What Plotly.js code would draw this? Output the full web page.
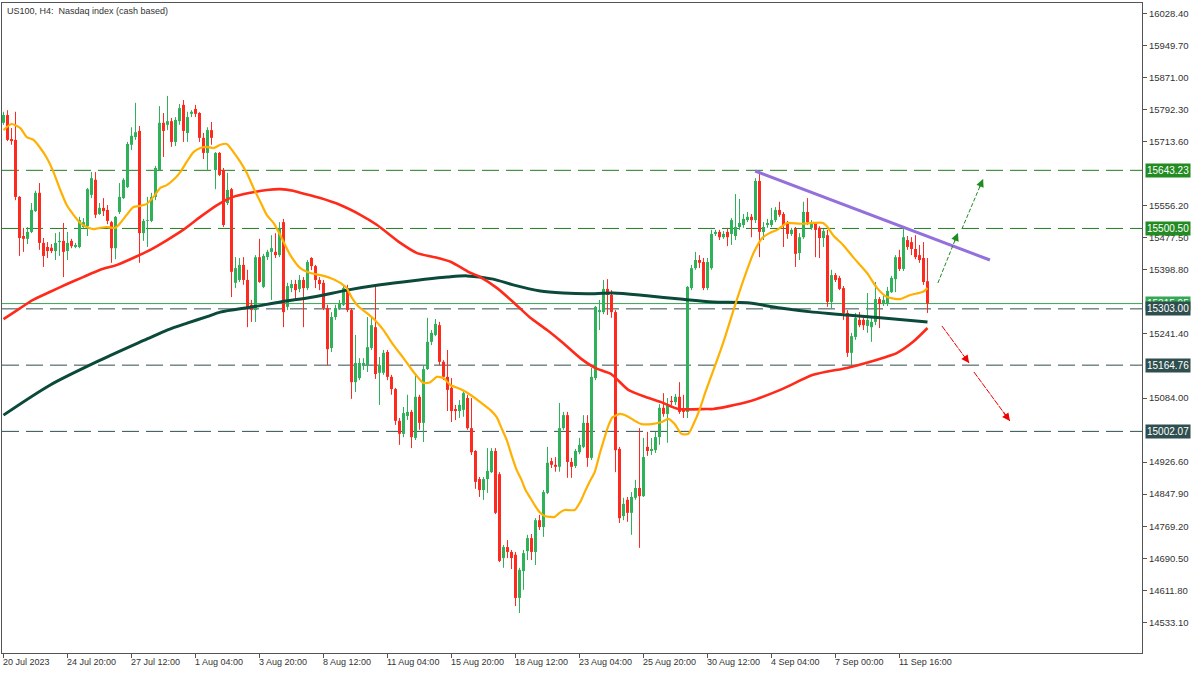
<!DOCTYPE html>
<html><head><meta charset="utf-8">
<script src="https://cdn.plot.ly/plotly-3.0.1.min.js"></script>
<style>html,body{margin:0;padding:0;background:#fff;}#chart{width:1200px;height:675px;}</style>
</head><body><div id="chart"></div>
<script>
const chartTitle = 'US100, H4:\u00A0 Nasdaq index (cash based)';
const xTickLabels = ['20 Jul 2023','24 Jul 20:00','27 Jul 12:00','1 Aug 04:00','3 Aug 20:00','8 Aug 12:00','11 Aug 04:00','15 Aug 20:00','18 Aug 12:00','23 Aug 04:00','25 Aug 20:00','30 Aug 12:00','4 Sep 04:00','7 Sep 00:00','11 Sep 16:00'];
const barsPerTimeLabel = 16;
const yTickVals = [16028.40,15949.70,15871.00,15792.30,15713.60,15556.20,15477.50,15398.80,15241.40,15084.00,14926.60,14847.90,14769.20,14690.50,14611.80,14533.10];

const opens = [15760,15779,15720,15718,15578,15482,15475,15492,15543,15588,
15465,15455,15453,15445,15467,15470,15445,15470,15455,15455,
15504,15506,15583,15620,15536,15551,15546,15516,15452,15541,
15575,15602,15706,15725,15740,15489,15519,15519,15578,15644,
15760,15755,15764,15713,15764,15804,15735,15782,15794,15784,
15723,15686,15742,15644,15686,15644,15563,15597,15367,15374,
15411,15374,15313,15300,15430,15357,15430,15443,15443,15435,
15516,15308,15354,15364,15352,15374,15354,15428,15408,15374,
15367,15305,15207,15283,15305,15313,15354,15300,15123,15133,
15165,15165,15207,15258,15146,15146,15197,15136,15106,15028,
14996,15040,15050,14986,15087,15023,15155,15222,15239,15263,
15173,15136,15109,15057,15052,15055,15084,15010,14954,14885,
14858,14885,14902,14954,14897,14691,14718,14706,14699,14593,
14659,14708,14740,14706,14784,14767,14851,14929,14920,14915,
15010,15042,14927,14917,14951,14964,15023,14937,15133,15295,
15295,15352,15337,15295,14959,14794,14834,14802,14839,14863,
14843,14964,14954,14956,14988,15060,15045,15077,15074,15087,
15055,15050,15354,15403,15423,15418,15354,15403,15487,15492,
15479,15492,15487,15482,15504,15509,15521,15529,15521,15617,
15492,15509,15509,15521,15546,15536,15514,15487,15499,15440,
15479,15541,15502,15514,15502,15477,15484,15320,15386,15379,
15354,15293,15195,15234,15276,15276,15261,15258,15271,15327,
15315,15315,15344,15376,15430,15401,15472,15467,15450,15435,
15428,15371];
const highs = [15787,15791,15747,15787,15580,15502,15504,15563,15593,15612,
15477,15467,15462,15489,15492,15514,15492,15475,15465,15529,
15526,15600,15639,15639,15563,15575,15558,15519,15531,15612,
15624,15713,15749,15809,15752,15524,15578,15588,15654,15801,
15784,15826,15772,15774,15806,15816,15787,15791,15804,15786,
15735,15749,15762,15688,15688,15649,15637,15600,15430,15428,
15430,15399,15325,15435,15475,15438,15448,15484,15489,15516,
15524,15367,15374,15374,15386,15381,15423,15430,15411,15381,
15374,15313,15295,15313,15325,15362,15362,15305,15239,15182,
15182,15283,15283,15362,15185,15202,15202,15141,15109,15035,
15062,15092,15055,15141,15092,15165,15281,15251,15278,15271,
15177,15202,15133,15067,15079,15104,15092,15084,14956,14890,
14890,14961,14961,14961,14902,14723,14735,14711,14706,14667,
14711,14748,14750,14789,14797,14858,14964,14937,14939,15072,
15050,15050,14937,14959,14986,15042,15042,15158,15310,15325,
15374,15376,15349,15300,14964,14839,14841,14853,14883,15010,
14986,15001,14986,15001,15069,15096,15084,15089,15094,15123,
15092,15359,15411,15443,15435,15428,15428,15497,15497,15497,
15494,15499,15526,15585,15573,15536,15541,15536,15624,15637,
15516,15524,15551,15553,15566,15541,15519,15502,15504,15489,
15566,15575,15521,15516,15506,15499,15497,15399,15391,15384,
15359,15300,15244,15293,15295,15281,15342,15281,15369,15332,
15335,15357,15384,15435,15448,15502,15482,15479,15484,15460,
15467,15428];
const lows = [15755,15715,15706,15570,15433,15443,15462,15489,15541,15448,
15406,15428,15440,15423,15433,15381,15423,15452,15452,15452,
15502,15482,15575,15526,15534,15531,15511,15416,15425,15536,
15573,15600,15693,15718,15416,15470,15455,15516,15570,15642,
15676,15742,15701,15703,15755,15713,15713,15774,15774,15713,
15671,15642,15706,15597,15629,15504,15558,15332,15354,15369,
15362,15258,15271,15271,15367,15354,15423,15325,15428,15430,
15258,15300,15344,15325,15344,15258,15349,15398,15354,15349,
15300,15165,15197,15276,15300,15310,15295,15082,15099,15128,
15153,15148,15202,15131,15067,15141,15128,15092,15018,14969,
14988,15030,14961,14981,15006,14976,15153,15214,15236,15165,
15128,15052,15025,15030,15035,15038,15006,14944,14861,14841,
14834,14851,14900,14799,14681,14667,14691,14664,14573,14556,
14613,14686,14686,14674,14760,14743,14848,14912,14903,14903,
15006,14888,14888,14912,14946,14961,14915,14932,15128,15251,
15290,15288,15281,14902,14777,14784,14780,14748,14834,14716,
14841,14942,14944,14949,14969,15038,14974,15067,15067,15045,
15035,15035,15349,15399,15403,15349,15349,15399,15482,15472,
15475,15457,15460,15472,15497,15502,15516,15479,15514,15430,
15472,15502,15504,15516,15529,15455,15475,15482,15406,15423,
15475,15509,15497,15430,15428,15455,15308,15305,15369,15349,
15276,15185,15160,15227,15258,15251,15244,15222,15263,15256,
15310,15310,15342,15344,15396,15396,15448,15435,15425,15416,
15362,15293];
const closes = [15779,15718,15715,15578,15477,15475,15492,15546,15588,15465,
15433,15445,15445,15465,15470,15443,15465,15457,15460,15521,
15516,15597,15624,15534,15551,15543,15519,15452,15529,15578,
15620,15708,15728,15737,15489,15519,15521,15578,15649,15760,
15740,15764,15713,15767,15796,15740,15774,15787,15782,15723,
15686,15742,15723,15686,15632,15509,15595,15394,15403,15411,
15374,15305,15300,15430,15369,15433,15443,15452,15435,15501,
15295,15359,15364,15349,15374,15354,15418,15408,15374,15364,
15305,15204,15283,15305,15317,15354,15300,15123,15170,15170,
15170,15209,15263,15143,15165,15195,15136,15106,15028,14996,
15047,15050,14988,15087,15023,15155,15222,15244,15266,15173,
15136,15104,15052,15052,15067,15096,15010,14951,14878,14858,
14885,14905,14954,14802,14684,14718,14706,14691,14593,14662,
14703,14740,14706,14784,14767,14853,14925,14920,14915,15010,
15042,14927,14915,14954,14969,15023,14937,15136,15308,15300,
15352,15337,15295,14956,14789,14824,14802,14841,14863,14843,
14939,14954,14959,14988,15060,15045,15067,15074,15087,15050,
15050,15357,15403,15423,15416,15354,15418,15487,15492,15479,
15487,15479,15521,15504,15514,15524,15529,15521,15617,15492,
15504,15514,15521,15546,15534,15509,15487,15497,15438,15479,
15541,15516,15514,15497,15477,15494,15320,15386,15374,15352,
15293,15195,15236,15281,15263,15263,15276,15271,15327,15315,
15325,15347,15379,15430,15401,15479,15455,15450,15430,15423,
15369,15315.95];

// moving averages (bar position, price)
const maFastPos = [0,2,4.2,5.8,7.5,9.2,10.8,12.5,14.2,15.8,17.5,19.2,20.8,22.5,24.2,25.8,27.9,29.2,30.8,32.5,34.2,35.8,37.5,39.2,40.8,42.5,44.2,45.8,47.5,49.2,50.8,52.5,54.2,55.8,57.5,59.2,60.8,62.5,64.2,65.8,67.5,69.2,71.7,74.2,76.7,79.2,81.7,84.2,85.8,87.1,88.8,90.8,93.3,95,97.5,100,102.5,105,106.7,108.3,110,111.7,114.2,116.7,119.2,121.7,123.3,124.5,125.8,127,128.3,129.5,130.5,131.7,132.8,134,135.3,136.7,137.8,139,140.3,142.8,144.2,145.3,146.5,147.8,149.2,150.3,151.3,152.3,154.2,155.8,157.5,159.5,162,164.5,166.2,167.8,169.5,171.2,172.5,174,175.5,177.5,180,182.5,185,187.5,189.7,191.5,193.4,195.9,199.2,202.4,204.9,206,207.4,209.9,212.4,215.9,218.4,220.9,224.2,226.7,229.9,231];
const maFastVals = [15742,15757,15747,15725,15718,15698,15674,15639,15595,15558,15534,15514,15504,15499,15502,15504,15502,15514,15534,15553,15556,15561,15578,15600,15607,15620,15639,15664,15688,15698,15701,15698,15706,15708,15688,15664,15637,15600,15566,15534,15514,15484,15435,15403,15391,15386,15379,15367,15354,15330,15308,15293,15271,15251,15214,15182,15148,15121,15123,15136,15133,15116,15106,15092,15074,15055,15037,15010,14981,14944,14907,14883,14858,14839,14821,14804,14794,14792,14792,14802,14809,14809,14829,14853,14878,14902,14952,14988,15018,15037,15045,15040,15030,15020,15020,15025,15033,15020,14996,14996,15020,15055,15099,15153,15222,15300,15374,15440,15477,15489,15497,15514,15512,15514,15514,15504,15484,15460,15430,15391,15354,15332,15327,15337,15345,15354];
const maMidPos = [0,4.2,7.4,11.7,15.9,19.9,24.2,28.4,32.4,36.7,40.9,44.9,49.2,53.4,57.4,61.7,65.9,69.2,72.4,74.2,79.2,84.2,89.2,93.4,99.2,103.4,107.7,111.9,116.2,119.2,123.4,127.4,131.7,135.9,139.9,144.2,147.9,151.9,156.2,160.4,164.4,168.7,175.7,177.4,185.9,194.2,202.4,210.9,216.7,223.4,227.4,231];
const maMidVals = [15278,15305,15325,15345,15364,15381,15399,15411,15428,15448,15472,15497,15529,15558,15578,15588,15595,15597,15593,15588,15575,15558,15534,15509,15465,15440,15430,15418,15394,15381,15354,15320,15281,15251,15219,15182,15158,15143,15104,15087,15074,15057,15057,15057,15074,15104,15141,15158,15173,15195,15222,15256];
const maSlowPos = [0,11.7,24.2,35.9,40.9,45.9,50.9,54.2,62.4,69.2,77.4,85.9,94.2,102.4,110.9,115.9,122.4,127.4,134.2,139.9,145.9,152.4,160.9,169.2,177.4,185.9,194.2,202.4,210.9,219.2,231];
const maSlowVals = [15042,15116,15177,15229,15251,15268,15284,15295,15308,15320,15332,15349,15362,15372,15381,15384,15376,15362,15347,15342,15340,15342,15335,15327,15320,15318,15305,15295,15288,15281,15271];

const levelValues = [15643.23, 15500.50, 15303.00, 15164.76, 15002.07];
const levelKinds = ['resistance','resistance','support','support','support'];
const bidPrice = 15315.95;
const trendBars = [187.9, 246.6];
const trendPrices = [15641.6, 15423.0];
const arrowStartBars = [233.6, 239.6, 234.6, 242.6];
const arrowStartPrices = [15366.6, 15499.2, 15261.0, 15148.0];
const arrowEndBars = [238.6, 244.9, 241.4, 251.6];
const arrowEndPrices = [15489.3, 15622.0, 15170.1, 15027.6];
const arrowKinds = ['up','up','down','down'];

const FONT = 'Liberation Sans, Arial, sans-serif';
const BULL = '#2FB15A', BEAR = '#FF2A1F';
const GREEN_LVL = '#1F7F1F', DARK_LVL = '#2F4F4F';
const GREEN_BOX = '#228B22', DARK_BOX = '#2F4F4F', BID_COL = '#34A853';

const isUp = i => closes[i] >= opens[i];
function wickTrace(up, color) {
  const x = [], y = [];
  for (let i = 0; i < opens.length; i++) {
    if (isUp(i) === up) { x.push(i, i, null); y.push(lows[i], highs[i], null); }
  }
  return {type:'scatter', mode:'lines', x, y, line:{color, width:1}, hoverinfo:'skip'};
}
function bodyTrace(up, color) {
  const x = [], base = [], h = [];
  for (let i = 0; i < opens.length; i++) {
    if (isUp(i) === up) {
      x.push(i);
      base.push(Math.min(opens[i], closes[i]));
      h.push(Math.max(Math.abs(closes[i] - opens[i]), 1.5));
    }
  }
  return {type:'bar', x, y:h, base, width:0.75, marker:{color, line:{width:0}}, hoverinfo:'skip'};
}

const traces = [
  wickTrace(true, BULL), wickTrace(false, BEAR),
  bodyTrace(true, BULL), bodyTrace(false, BEAR),
  {type:'scatter', mode:'lines', x:maSlowPos, y:maSlowVals, line:{color:'#0B4A3A', width:3, shape:'spline', smoothing:0.8}, hoverinfo:'skip'},
  {type:'scatter', mode:'lines', x:maMidPos, y:maMidVals, line:{color:'#FF2A1A', width:2.6, shape:'spline', smoothing:0.6}, hoverinfo:'skip'},
  {type:'scatter', mode:'lines', x:maFastPos, y:maFastVals, line:{color:'#FFB000', width:2.2, shape:'spline', smoothing:0.6}, hoverinfo:'skip'},
  {type:'scatter', mode:'lines', x:trendBars, y:trendPrices, line:{color:'#9370DB', width:3}, hoverinfo:'skip'}
];

const shapes = [];
levelValues.forEach((v, k) => {
  shapes.push({type:'line', xref:'paper', x0:0, x1:1, yref:'y', y0:v, y1:v, layer:'below',
    line:{color: levelKinds[k] === 'resistance' ? GREEN_LVL : DARK_LVL, width:1, dash:'17px,7px'}});
});
shapes.push({type:'line', xref:'paper', x0:0, x1:1, yref:'y', y0:bidPrice, y1:bidPrice, layer:'below', line:{color:BID_COL, width:1}});
arrowStartBars.forEach((b, k) => {
  const col = arrowKinds[k] === 'up' ? '#1E8C1E' : '#F00000';
  shapes.push({type:'line', xref:'x', yref:'y', x0:b, y0:arrowStartPrices[k], x1:arrowEndBars[k], y1:arrowEndPrices[k],
    line:{color:col, width:1, dash: arrowKinds[k] === 'up' ? '4px,2px' : '6px,1px'}});
});

const annotations = [];
annotations.push({xref:'paper', yref:'paper', x:0, y:1, xanchor:'left', yanchor:'top', xshift:3, yshift:-1,
  text:chartTitle, showarrow:false, font:{family:FONT, size:9, color:'#333'}});
xTickLabels.forEach((t, k) => {
  annotations.push({xref:'x', yref:'paper', x:k * barsPerTimeLabel, y:0, xanchor:'left', yanchor:'top',
    xshift:-3, yshift:-2, text:t, showarrow:false, font:{family:FONT, size:9, color:'#333'}});
});
arrowStartBars.forEach((b, k) => {
  const col = arrowKinds[k] === 'up' ? '#1E8C1E' : '#F00000';
  const tb = b + 0.8 * (arrowEndBars[k] - b);
  const tp = arrowStartPrices[k] + 0.8 * (arrowEndPrices[k] - arrowStartPrices[k]);
  annotations.push({x:arrowEndBars[k], y:arrowEndPrices[k], ax:tb, ay:tp, axref:'x', ayref:'y', xref:'x', yref:'y',
    showarrow:true, arrowhead:2, arrowsize:1.3, arrowwidth:1.2, arrowcolor:col, text:''});
});
function priceLabel(v, bg) {
  return {xref:'paper', x:1, xanchor:'left', xshift:3, yref:'y', y:v, yanchor:'middle', text:v.toFixed(2),
    showarrow:false, bgcolor:bg, borderpad:1, font:{family:FONT, size:10, color:'#fff'}};
}
annotations.push(priceLabel(bidPrice, BID_COL));
levelValues.forEach((v, k) => annotations.push(priceLabel(v, levelKinds[k] === 'resistance' ? GREEN_BOX : DARK_BOX)));

const layout = {
  width:1200, height:675,
  margin:{l:2, r:58, t:3, b:22, pad:0},
  paper_bgcolor:'#ffffff', plot_bgcolor:'#ffffff',
  showlegend:false, barmode:'overlay',
  font:{family:FONT, size:9, color:'#333'},
  xaxis:{type:'linear', range:[-0.375, 284.625], showgrid:false, zeroline:false,
    showline:true, mirror:true, linecolor:'#555', linewidth:1,
    tickmode:'array', tickvals:xTickLabels.map((_, k) => k * barsPerTimeLabel), ticktext:xTickLabels,
    showticklabels:false, ticks:'outside', ticklen:4, tickcolor:'#555'},
  yaxis:{side:'right', range:[14457.8, 16054.2], showgrid:false, zeroline:false,
    showline:true, mirror:true, linecolor:'#555', linewidth:1,
    tickmode:'array', tickvals:yTickVals, tickformat:'.2f',
    ticks:'outside', ticklen:4, tickcolor:'#555', tickfont:{size:9.5, color:'#333'}},
  shapes, annotations
};
Plotly.newPlot('chart', traces, layout, {staticPlot:true, displayModeBar:false});
</script></body></html>
